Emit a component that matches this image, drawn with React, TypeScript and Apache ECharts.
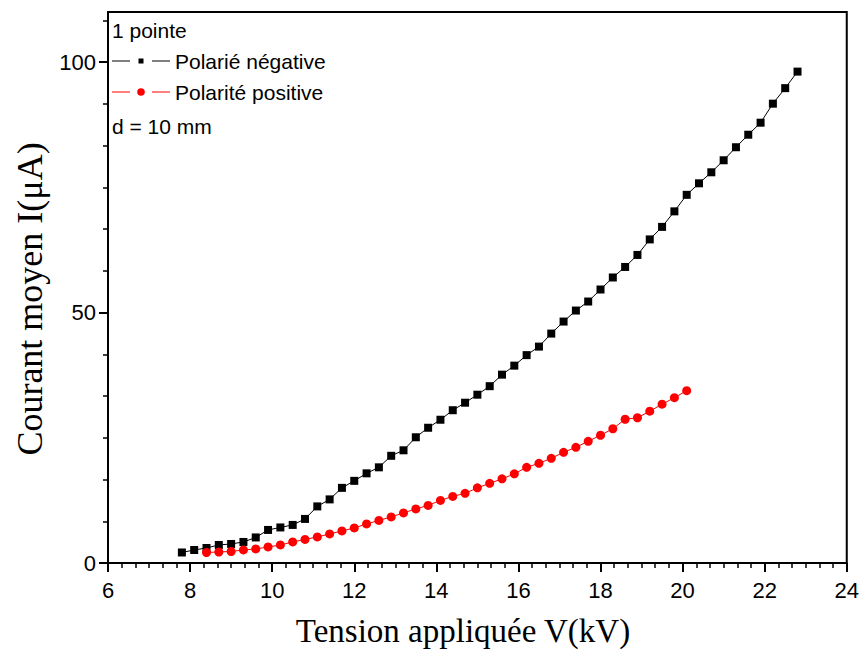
import React, { useEffect, useRef } from "react";
import * as echarts from "echarts";

const negVoltage = [7.8, 8.1, 8.4, 8.7, 9.0, 9.3, 9.6, 9.9, 10.2, 10.5, 10.8, 11.1, 11.4, 11.7, 12.0, 12.3, 12.6, 12.9, 13.2, 13.5, 13.8, 14.1, 14.4, 14.7, 15.0, 15.3, 15.6, 15.9, 16.2, 16.5, 16.8, 17.1, 17.4, 17.7, 18.0, 18.3, 18.6, 18.9, 19.2, 19.5, 19.8, 20.1, 20.4, 20.7, 21.0, 21.3, 21.6, 21.9, 22.2, 22.5, 22.8];
const negCurrent = [2.1, 2.6, 3.0, 3.6, 3.8, 4.2, 5.1, 6.6, 7.1, 7.6, 8.8, 11.3, 12.7, 15.0, 16.4, 17.9, 19.1, 21.4, 22.5, 25.1, 27.0, 28.6, 30.5, 32.0, 33.6, 35.3, 37.6, 39.4, 41.5, 43.2, 45.8, 48.2, 50.4, 52.2, 54.6, 57.0, 59.1, 61.5, 64.6, 67.1, 70.2, 73.5, 75.8, 78.0, 80.4, 83.0, 85.5, 87.9, 91.7, 94.8, 98.1];

const posVoltage = [8.4, 8.7, 9.0, 9.3, 9.6, 9.9, 10.2, 10.5, 10.8, 11.1, 11.4, 11.7, 12.0, 12.3, 12.6, 12.9, 13.2, 13.5, 13.8, 14.1, 14.4, 14.7, 15.0, 15.3, 15.6, 15.9, 16.2, 16.5, 16.8, 17.1, 17.4, 17.7, 18.0, 18.3, 18.6, 18.9, 19.2, 19.5, 19.8, 20.1];
const posCurrent = [2.1, 2.2, 2.3, 2.6, 2.8, 3.2, 3.6, 4.2, 4.7, 5.2, 5.8, 6.4, 7.0, 7.8, 8.5, 9.2, 10.0, 10.8, 11.5, 12.5, 13.3, 13.9, 15.0, 15.9, 16.8, 17.8, 19.1, 19.9, 20.9, 22.1, 23.1, 24.3, 25.5, 26.8, 28.7, 29.0, 30.3, 31.7, 33.0, 34.4];

const yTickValues = [0, 50, 100];
const seriesNames = ["Polarié négative", "Polarité positive"];
const xTitle = "Tension appliquée V(kV)";
const yTitle = "Courant moyen I(μA)";
const annotationTop = "1 pointe";
const annotationBottom = "d = 10 mm";

const SANS = "'Liberation Sans', Arial, sans-serif";
const SERIF = "'Liberation Serif', 'Times New Roman', serif";

// legend icons: dash - marker - dash (58 x 8 box)
const CORNERS = "M0 0 L0.05 0 L0.05 0.05 Z M57.95 7.95 L58 7.95 L58 8 Z ";
const DASHES = "M0 3.5 L18 3.5 L18 4.5 L0 4.5 Z M40 3.5 L58 3.5 L58 4.5 L40 4.5 Z ";
const ICON_NEG = "path://" + CORNERS + DASHES + "M26.5 1.5 L31.5 1.5 L31.5 6.5 L26.5 6.5 Z";
const ICON_POS = "path://" + CORNERS + DASHES + "M25.2 4 A3.8 3.8 0 1 0 32.8 4 A3.8 3.8 0 1 0 25.2 4 Z";

export default function App() {
  const ref = useRef<HTMLDivElement>(null);
  useEffect(() => {
    const chart = echarts.init(ref.current!, null, { renderer: "svg" });
    const tickStyle = { color: "#000", width: 2 };
    chart.setOption({
      animation: false,
      backgroundColor: "#fff",
      grid: { left: 108, right: 11, top: 12, bottom: 87, show: true, borderColor: "#000", borderWidth: 2 },
      xAxis: {
        type: "value",
        min: 6,
        max: 24,
        interval: 2,
        axisLine: { show: true, onZero: false, lineStyle: tickStyle },
        axisTick: { show: true, inside: false, length: 9, lineStyle: tickStyle },
        minorTick: { show: true, splitNumber: 6, length: 5, lineStyle: { color: "#000", width: 1.5 } },
        splitLine: { show: false },
        minorSplitLine: { show: false },
        axisLabel: { color: "#000", fontFamily: SANS, fontSize: 22, margin: 16 },
      },
      yAxis: {
        type: "value",
        min: 0,
        max: 110,
        interval: 50,
        axisLine: { show: true, onZero: false, lineStyle: tickStyle },
        axisTick: { show: true, inside: false, length: 9, lineStyle: tickStyle, customValues: yTickValues },
        minorTick: { show: true, splitNumber: 6, length: 5, lineStyle: { color: "#000", width: 1.5 } },
        splitLine: { show: false },
        minorSplitLine: { show: false },
        axisLabel: { color: "#000", fontFamily: SANS, fontSize: 22, margin: 12, customValues: yTickValues },
      },
      legend: {
        show: true,
        orient: "vertical",
        left: 112,
        top: 50,
        padding: 0,
        itemGap: 9,
        itemWidth: 58,
        itemHeight: 8,
        textStyle: { color: "#000", fontFamily: SANS, fontSize: 21, lineHeight: 22 },
        data: [
          { name: seriesNames[0], icon: ICON_NEG },
          { name: seriesNames[1], icon: ICON_POS },
        ],
      },
      graphic: [
        { type: "text", x: 112, y: 30, style: { text: annotationTop, fill: "#000", font: `21px ${SANS}`, verticalAlign: "middle" } },
        { type: "text", x: 112, y: 126, style: { text: annotationBottom, fill: "#000", font: `21px ${SANS}`, verticalAlign: "middle" } },
        { type: "text", x: 463, y: 631, style: { text: xTitle, fill: "#000", font: `33px ${SERIF}`, align: "center", verticalAlign: "middle" } },
        { type: "text", x: 30, y: 299, rotation: Math.PI / 2, style: { text: yTitle, fill: "#000", font: `36px ${SERIF}`, align: "center", verticalAlign: "middle" } },
      ],
      series: [
        {
          name: seriesNames[0],
          type: "line",
          data: negVoltage.map((v, i) => [v, negCurrent[i]]),
          symbol: "rect",
          symbolSize: 8,
          showAllSymbol: true,
          itemStyle: { color: "#000" },
          lineStyle: { color: "#000", width: 1 },
        },
        {
          name: seriesNames[1],
          type: "line",
          data: posVoltage.map((v, i) => [v, posCurrent[i]]),
          symbol: "circle",
          symbolSize: 9,
          showAllSymbol: true,
          itemStyle: { color: "#ff0000" },
          lineStyle: { color: "#ff0000", width: 1 },
        },
      ],
    });
    return () => chart.dispose();
  }, []);
  return <div ref={ref} style={{ position: "absolute", left: 0, top: 0, width: 862, height: 650 }} />;
}
